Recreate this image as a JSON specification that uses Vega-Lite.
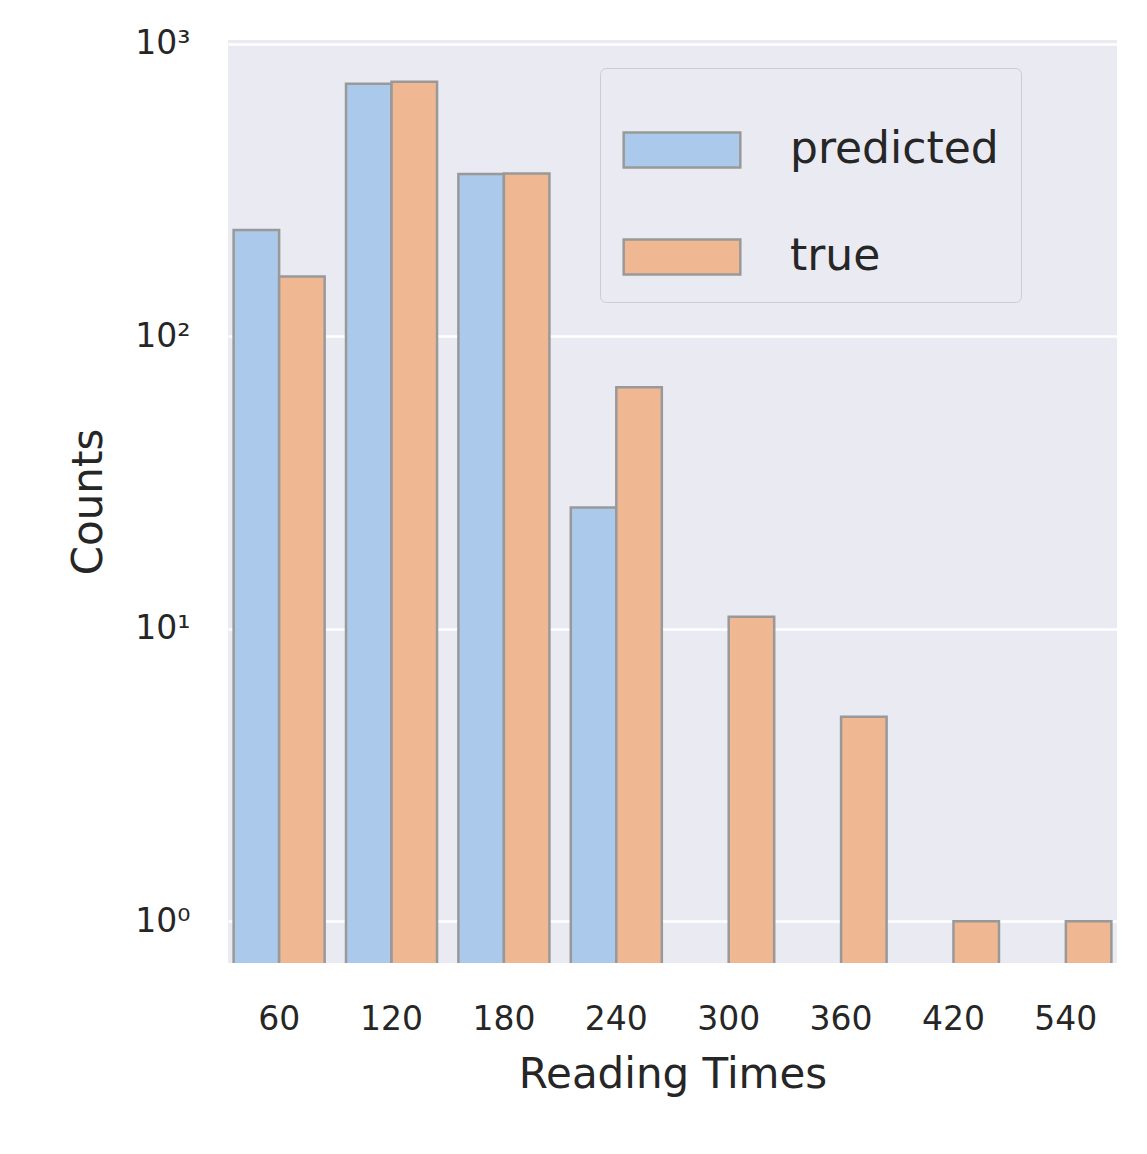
{
  "$schema": "https://vega.github.io/schema/vega-lite/v6.json",
  "autosize": {"type": "none"},
  "padding": {"left": 228, "top": 40, "right": 30, "bottom": 191},
  "width": 889,
  "height": 923,
  "background": "white",
  "config": {
    "font": "DejaVu Sans",
    "view": {"fill": "#EAEAF2", "stroke": null},
    "axis": {"domain": false, "ticks": false, "grid": true, "gridColor": "white", "gridWidth": 2.5, "labelColor": "#262626", "titleColor": "#262626", "labelFontSize": 33, "titleFontSize": 42, "titleFontWeight": "normal"}
  },
  "data": {
    "values": [
      {"time": "60", "kind": "predicted", "count": 231},
      {"time": "60", "kind": "true", "count": 160},
      {"time": "120", "kind": "predicted", "count": 730},
      {"time": "120", "kind": "true", "count": 741},
      {"time": "180", "kind": "predicted", "count": 359},
      {"time": "180", "kind": "true", "count": 360},
      {"time": "240", "kind": "predicted", "count": 26},
      {"time": "240", "kind": "true", "count": 67},
      {"time": "300", "kind": "true", "count": 11},
      {"time": "360", "kind": "true", "count": 5},
      {"time": "420", "kind": "true", "count": 1},
      {"time": "540", "kind": "true", "count": 1}
    ]
  },
  "mark": {"type": "bar", "stroke": "#999999", "strokeWidth": 2.5, "clip": true},
  "encoding": {
    "x": {
      "field": "time", "type": "ordinal", "sort": ["60", "120", "180", "240", "300", "360", "420", "540"],
      "title": "Reading Times",
      "scale": {"paddingInner": 0.19, "paddingOuter": 0.05},
      "axis": {"labelAngle": 0, "grid": false, "labelPadding": 40, "titlePadding": 18}
    },
    "y": {
      "field": "count", "type": "quantitative", "title": "Counts",
      "scale": {"type": "log", "domain": [0.72, 1030], "nice": false},
      "axis": {"values": [1, 10, 100, 1000], "labelExpr": "datum.value == 1 ? '10⁰' : datum.value == 10 ? '10¹' : datum.value == 100 ? '10²' : '10³'", "labelPadding": 38, "titlePadding": 24}
    },
    "y2": {"datum": 0.5},
    "xOffset": {"field": "kind", "type": "nominal", "sort": ["predicted", "true"]},
    "color": {
      "field": "kind", "type": "nominal", "title": null,
      "scale": {"domain": ["predicted", "true"], "range": ["#abc9ea", "#efb792"]},
      "legend": {
        "orient": "none", "legendX": 372, "legendY": 28,
        "labelFontSize": 44, "labelColor": "#262626", "labelLimit": 500,
        "symbolType": "M-1,-0.3H1V0.3H-1Z", "symbolSize": 13600, "symbolStrokeColor": "#999999", "symbolStrokeWidth": 2.5, "symbolOpacity": 1,
        "rowPadding": 24, "labelOffset": 48,
        "fillColor": "#EAEAF2", "strokeColor": "#cccccc", "padding": 22, "cornerRadius": 6
      }
    }
  }
}
